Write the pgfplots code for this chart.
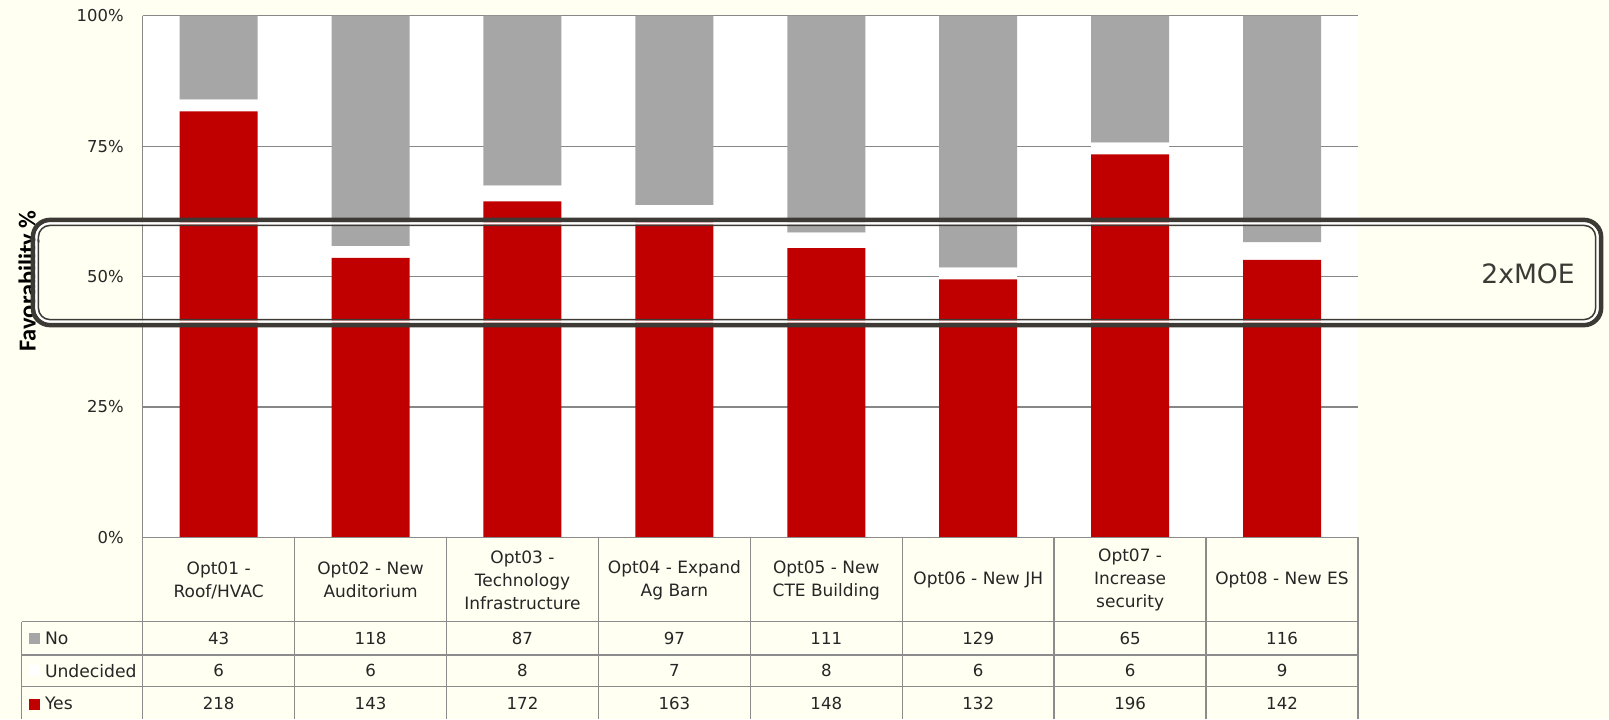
\documentclass[border=0pt]{standalone}
\usepackage{pgfplots}
\pgfplotsset{compat=1.18}
\usepackage{pgfplotstable}
\usepackage{fontspec}
\setmainfont{DejaVu Sans}
\newfontfamily\carlito{Carlito}
\definecolor{bg}{HTML}{FFFFF2}
\definecolor{yesred}{HTML}{C00000}
\definecolor{nogray}{HTML}{A6A6A6}
\definecolor{gridgray}{HTML}{878787}
\definecolor{tabgray}{HTML}{8C8C8C}
\definecolor{bandc}{HTML}{3D3935}
\definecolor{txt}{HTML}{262626}

\pgfplotstableread{
idx no und yes
0 43 6 218
1 118 6 143
2 87 8 172
3 97 7 163
4 111 8 148
5 129 6 132
6 65 6 196
7 116 9 142
}\datatable

\begin{document}
\begin{tikzpicture}
\useasboundingbox (0,0) rectangle (804.5pt,359.5pt);
\fill[bg] (0,0) rectangle (804.5pt,359.5pt);

% y label (drawn before band)
\node[rotate=90, text=black, font=\carlito\bfseries\fontsize{12.2}{14}\selectfont] at (14.5pt,219pt) {Favorability \%};

\begin{axis}[
  at={(71.35pt,90.85pt)}, anchor=south west,
  scale only axis, width=607.65pt, height=260.8pt,
  ybar stacked, bar width=39pt,
  xmin=-0.5, xmax=7.5, ymin=0, ymax=100,
  xtick=\empty,
  ytick={0,25,50,75,100},
  yticklabels={0\%,25\%,50\%,75\%,100\%},
  yticklabel style={anchor=east, xshift=-6pt, text=txt, font=\fontsize{8.2}{10}\selectfont},
  major tick length=0pt,
  ymajorgrids, grid style={gridgray, line width=0.6pt},
  axis x line*=bottom, axis y line*=left,
  axis line style={gridgray, line width=0.75pt},
  axis background/.style={fill=white},
  clip=false,
]
\addplot[fill=yesred, draw=none] table[x=idx, y expr={100*\thisrow{yes}/(\thisrow{yes}+\thisrow{und}+\thisrow{no})}] {\datatable};
\addplot[fill=white, draw=none] table[x=idx, y expr={100*\thisrow{und}/(\thisrow{yes}+\thisrow{und}+\thisrow{no})}] {\datatable};
\addplot[fill=nogray, draw=none] table[x=idx, y expr={100*\thisrow{no}/(\thisrow{yes}+\thisrow{und}+\thisrow{no})}] {\datatable};
\draw[gridgray, line width=0.75pt] (rel axis cs:0,1) -- (rel axis cs:1,1);
\end{axis}

% data table
\begin{scope}[tabgray, line width=0.75pt]
  \draw (71.35pt,90.85pt) -- (679pt,90.85pt);
  \foreach \yy in {48.65,32,16.15} \draw (10.85pt,\yy pt) -- (679pt,\yy pt);
  \foreach \k in {0,...,8} \draw ({71.35pt+\k*75.956pt},0pt) -- ({71.35pt+\k*75.956pt},90.85pt);
  \draw (10.85pt,0pt) -- (10.85pt,48.65pt);
\end{scope}

% legend column
\fill[nogray] (14.3pt,37.6pt) rectangle (19.8pt,43.1pt);
\fill[white] (14.3pt,21.4pt) rectangle (19.8pt,26.9pt);
\fill[yesred] (14.3pt,4.6pt) rectangle (19.8pt,10.1pt);
\begin{scope}[every node/.style={anchor=west, inner sep=0pt, text=txt, font=\fontsize{8.6}{10}\selectfont}]
  \node at (22.3pt,40.3pt) {No};
  \node at (22.3pt,24.1pt) {Undecided};
  \node at (22.3pt,7.6pt) {Yes};
\end{scope}

% category labels
\foreach \lab [count=\c from 0] in {{Opt01 -\\Roof/HVAC},{Opt02 - New\\Auditorium},{Opt03 -\\Technology\\Infrastructure},{Opt04 - Expand\\Ag Barn},{Opt05 - New\\CTE Building},{Opt06 - New JH},{Opt07 -\\Increase\\security},{Opt08 - New ES}} {
  \node[align=center, text=txt, font=\fontsize{8.5}{11.5}\selectfont, inner sep=0pt] at ({71.35pt+(\c+0.5)*75.956pt},69.5pt) {\lab};
}

% table values
\foreach \i in {0,...,7} {
  \pgfplotstablegetelem{\i}{no}\of\datatable \let\vno\pgfplotsretval
  \pgfplotstablegetelem{\i}{und}\of\datatable \let\vund\pgfplotsretval
  \pgfplotstablegetelem{\i}{yes}\of\datatable \let\vyes\pgfplotsretval
  \node[text=txt, font=\fontsize{8.3}{10}\selectfont] at ({71.35pt+(\i+0.5)*75.956pt},40.3pt) {\vno};
  \node[text=txt, font=\fontsize{8.3}{10}\selectfont] at ({71.35pt+(\i+0.5)*75.956pt},24.1pt) {\vund};
  \node[text=txt, font=\fontsize{8.3}{10}\selectfont] at ({71.35pt+(\i+0.5)*75.956pt},7.6pt) {\vyes};
}

% 2xMOE band
\draw[bandc, line width=2.35pt, rounded corners=8.5pt] (16.5pt,197pt) rectangle (800.5pt,249.5pt);
\draw[white, line width=1.15pt, rounded corners=6.75pt] (18.25pt,198.75pt) rectangle (798.75pt,247.75pt);
\draw[bandc, line width=0.75pt, rounded corners=5.8pt] (19.2pt,199.7pt) rectangle (797.8pt,246.8pt);
\node[text=bandc, font=\fontsize{13.3}{15}\selectfont] at (764pt,222.5pt) {2xMOE};
\end{tikzpicture}
\end{document}
